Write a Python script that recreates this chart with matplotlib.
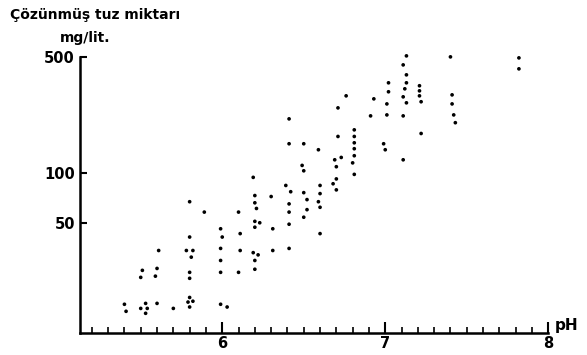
import matplotlib
matplotlib.use("Agg")
import matplotlib.pyplot as plt
from matplotlib.ticker import FixedLocator, NullFormatter, NullLocator

# pH readings and dissolved salt (mg/lit.)
ph = [5.40, 5.41,
      5.51, 5.50, 5.53, 5.50, 5.54, 5.53,
      5.60, 5.59, 5.61, 5.60,
      5.70,
      5.80, 5.80, 5.78, 5.82, 5.81, 5.80, 5.80, 5.80, 5.79, 5.82, 5.80,
      5.89,
      5.99, 6.00, 5.99, 5.99, 5.99, 5.99, 6.03,
      6.10, 6.11, 6.11, 6.10,
      6.19, 6.20, 6.20, 6.21, 6.20, 6.23, 6.20, 6.19, 6.22, 6.20, 6.20,
      6.30, 6.31, 6.31,
      6.41, 6.41, 6.39, 6.42, 6.41, 6.41, 6.41, 6.41,
      6.50, 6.49, 6.50, 6.50, 6.52, 6.52, 6.50,
      6.59, 6.60, 6.60, 6.59, 6.60, 6.60,
      6.71, 6.71, 6.69, 6.73, 6.70, 6.70, 6.68, 6.70,
      6.76,
      6.81, 6.81, 6.81, 6.81, 6.81, 6.80, 6.81,
      6.93, 6.91,
      7.02, 7.02, 7.01, 7.01, 6.99, 7.00,
      7.13, 7.11, 7.13, 7.13, 7.12, 7.11, 7.13, 7.11, 7.11,
      7.21, 7.21, 7.21, 7.22, 7.22,
      7.40, 7.41, 7.41, 7.42, 7.43,
      7.82, 7.82]
salt = [16.1, 14.6,
        25.8, 23.4, 16.3, 15.2, 15.2, 14.2,
        26.5, 23.8, 34, 16.3,
        15.2,
        67, 41, 34, 34, 31, 25.1, 23.1, 17.7, 16.6, 16.8, 15.5,
        58,
        46, 41, 35, 29.6, 25.1, 16.1, 15.5,
        58, 43, 34, 25.1,
        94, 73, 66, 61, 51, 50, 47, 33, 32, 29.6, 26.2,
        72, 46, 34,
        212, 150, 84, 77, 65, 58, 49, 35,
        150, 111, 103, 76, 69, 60, 54,
        138, 84, 75, 67, 62, 43,
        247, 166, 120, 124, 109, 92, 86, 79,
        292,
        182, 166, 152, 140, 127, 115, 98,
        280, 221,
        350, 309, 261, 224, 150, 138,
        509, 449, 391, 350, 322, 288, 265, 221, 120,
        336, 313, 292, 269, 173,
        502, 296, 261, 224, 201,
        495, 425]

x_major = [6, 7, 8]
y_ticks = [50, 100, 500]

fig = plt.figure(figsize=(5.87, 3.55), dpi=100)
ax = fig.add_axes([0.137, 0.062, 0.797, 0.777])

ax.scatter(ph, salt, s=7, c="black", edgecolors="none", zorder=3, clip_on=False)

ax.set_yscale("log")
ax.set_xlim(5.13, 8.0)
ax.set_ylim(10.8, 500)

for side in ["top", "right"]:
    ax.spines[side].set_visible(False)
for side in ["left", "bottom"]:
    ax.spines[side].set_linewidth(1.8)

ax.set_xticks(x_major)
ax.set_xticklabels([str(v) for v in x_major], fontweight="bold", fontsize=10.5)
ax.xaxis.set_minor_locator(FixedLocator([5.2 + 0.1 * i for i in range(28)]))
ax.tick_params(axis="x", which="major", direction="in", length=8, width=1.5, pad=2)
ax.tick_params(axis="x", which="minor", direction="in", length=4, width=1.2)

ax.yaxis.set_major_locator(FixedLocator(y_ticks))
ax.yaxis.set_minor_locator(NullLocator())
ax.yaxis.set_minor_formatter(NullFormatter())
ax.set_yticklabels([str(v) for v in y_ticks], fontweight="bold", fontsize=10.5)
ax.tick_params(axis="y", which="major", direction="in", length=5, width=1.5, pad=4)

fig.text(0.017, 0.957, "Çözünmüş tuz miktarı", fontsize=10, fontweight="bold",
         ha="left", va="center")
fig.text(0.102, 0.893, "mg/lit.", fontsize=10, fontweight="bold",
         ha="left", va="center")
fig.text(0.945, 0.083, "pH", fontsize=11, fontweight="bold",
         ha="left", va="center")

fig.savefig("out.png", dpi=100, facecolor="white")
